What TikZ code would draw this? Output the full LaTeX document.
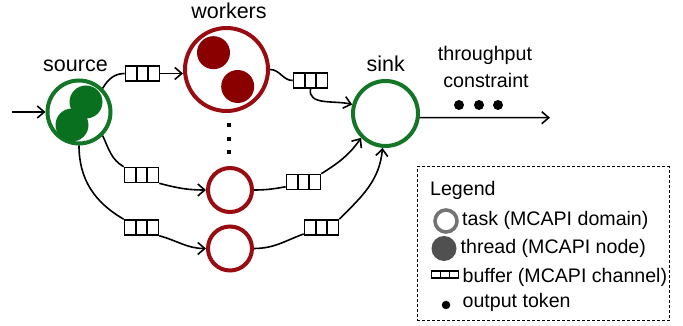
\documentclass[tikz,border=0pt]{standalone}
\usepackage{fontspec}
\setmainfont{Liberation Sans}
\usetikzlibrary{arrows.meta}
\definecolor{grn}{RGB}{18,118,38}
\definecolor{grndot}{RGB}{8,112,30}
\definecolor{rd}{RGB}{152,12,18}
\definecolor{rddot}{RGB}{138,0,0}
\definecolor{ringgray}{RGB}{115,115,115}
\definecolor{dotgray}{RGB}{80,80,80}
\begin{document}
\begin{tikzpicture}[x=1pt,y=1pt,
  conn/.style={line width=1.6pt},
  arr/.style={conn,-{Straight Barb[length=7pt,width=12pt]}},
  task/.style={circle, draw=#1, line width=4pt, inner sep=0pt},
  thr/.style={circle, fill=#1, inner sep=0pt, minimum size=33pt},
  buf/.style={draw, line width=1.6pt, minimum width=34pt, minimum height=15pt, inner sep=0pt,
    path picture={\draw[line width=1.6pt]
      ([xshift=-5.67pt]path picture bounding box.north) -- ([xshift=-5.67pt]path picture bounding box.south)
      ([xshift=5.67pt]path picture bounding box.north) -- ([xshift=5.67pt]path picture bounding box.south);}},
  bufs/.style={draw, line width=1.2pt, minimum width=27pt, minimum height=7pt, inner sep=0pt,
    path picture={\draw[line width=1.2pt]
      ([xshift=-4.5pt]path picture bounding box.north) -- ([xshift=-4.5pt]path picture bounding box.south)
      ([xshift=4.5pt]path picture bounding box.north) -- ([xshift=4.5pt]path picture bounding box.south);}},
  lbl/.style={font=\fontsize{21.5}{24}\selectfont, inner sep=0pt, anchor=base},
  lbltwo/.style={font=\fontsize{19.7}{23}\selectfont, inner sep=0pt, anchor=base},
  ltxt/.style={font=\fontsize{19.6}{23}\selectfont, inner sep=0pt, anchor=base west},
  tok/.style={circle, fill=black, inner sep=0pt, minimum size=10pt},
  vdot/.style={rectangle, fill=black, inner sep=0pt, minimum size=4pt}
]
\useasboundingbox (0,0) rectangle (683,326);

% tasks
\node[task=grn, minimum size=63pt] (src) at (79,214) {};
\node[task=rd, minimum size=83pt] (wk) at (226.5,256.5) {};
\node[task=grn, minimum size=65pt] (sink) at (385.5,212.5) {};
\node[task=rd, minimum size=44pt] (w1) at (230,136) {};
\node[task=rd, minimum size=44pt] (w2) at (230,77.5) {};

% threads
\node[thr=grndot] (s1) at (86,224) {};
\node[thr=grndot] (s2) at (72,201) {};
\node[thr=rddot] (k1) at (213.5,273.3) {};
\node[thr=rddot] (k2) at (237.7,239.5) {};

% vertical ellipsis
\node[vdot] (d1) at (229,201) {};
\node[vdot] (d2) at (229,187) {};
\node[vdot] (d3) at (229,174) {};

% buffers
\node[buf] (b1) at (142.5,252.5) {};
\node[buf] (b2) at (310.5,245.5) {};
\node[buf] (b3) at (141.5,151) {};
\node[buf] (b4) at (303.5,144) {};
\node[buf] (b5) at (141.5,98.5) {};
\node[buf] (b6) at (321.5,98.5) {};

% labels
\node[lbl] (lsrc) at (75.5,254) {source};
\node[lbl] (lwk) at (229,307.5) {workers};
\node[lbl] (lsink) at (385.7,254) {sink};
\node[lbltwo] (lthr) at (485,265) {throughput};
\node[lbltwo] (lcon) at (486,238) {constraint};

% output tokens
\node[tok] (t1) at (459,221) {};
\node[tok] (t2) at (479,221) {};
\node[tok] (t3) at (498,221) {};

% connectors
\coordinate (in) at (12,214);
\coordinate (out) at (550,208.3);
\draw[arr] (in) -- (src.west);
\draw[arr] (sink.-7) -- (out);

\draw[conn] (src.45) to[out=60,in=180] (b1.west);
\draw[arr] (b1.east) -- (wk.west |- b1.east);
\draw[conn] (wk.east) to[out=0,in=180] (b2.west);
\draw[arr] (b2.south) to[out=-100,in=165] (sink.165);

\draw[conn] (src.-45) to[out=-65,in=150] (b3.north west);
\draw[arr] (b3.south east) to[out=-15,in=180] (w1.west);
\draw[conn] (w1.east) to[out=0,in=190] (b4.195);
\draw[arr] (b4.north east) to[out=32,in=235] (sink.225);

\draw[conn] (src.south) to[out=-90,in=150] (b5.north west);
\draw[arr] (b5.south east) to[out=-15,in=180] (w2.west);
\draw[conn] (w2.east) to[out=0,in=200] (b6.200);
\draw[arr] (b6.north east) to[out=45,in=265] (sink.265);

% legend
\node[draw, dashed, dash pattern=on 3pt off 2pt, line width=0.9pt, minimum width=252pt, minimum height=154pt, inner sep=0pt, anchor=south west] (leg) at (417,5) {};
\node[ltxt] (lgd) at (430,130) {Legend};
\node[circle, draw=ringgray, line width=3.6pt, minimum size=22pt, inner sep=0pt] (lring) at (446,105) {};
\node[ltxt] (lt1) at (462,100.5) {task (MCAPI domain)};
\node[circle, fill=dotgray, minimum size=25pt, inner sep=0pt] (lthread) at (444,77.5) {};
\node[ltxt] (lt2) at (460.5,72) {thread (MCAPI node)};
\node[bufs] (lbuf) at (445,51.5) {};
\node[ltxt] (lt3) at (462.5,43) {buffer (MCAPI channel)};
\node[circle, fill=black, minimum size=8.5pt, inner sep=0pt] (ltok) at (446,21) {};
\node[ltxt] (lt4) at (462.5,18) {output token};
\end{tikzpicture}
\end{document}
